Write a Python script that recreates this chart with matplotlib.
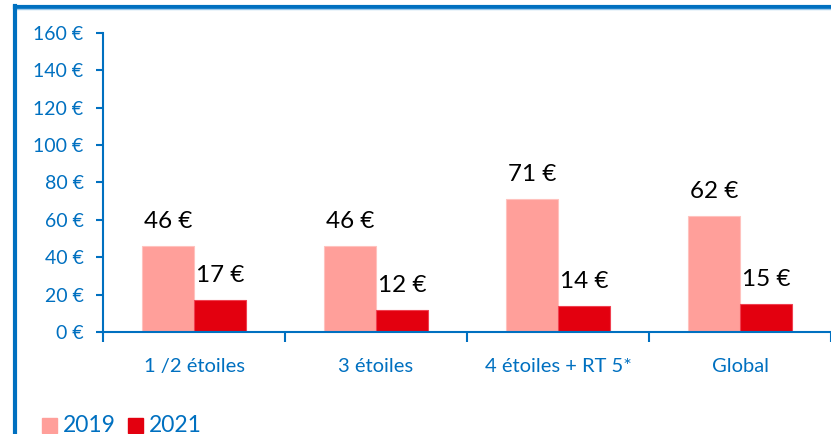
import matplotlib.pyplot as plt
import numpy as np
from matplotlib.lines import Line2D
from matplotlib.patches import Rectangle

plt.rcParams['font.family'] = ['Lato', 'DejaVu Sans']

categories = ['1 /2 étoiles', '3 étoiles', '4 étoiles + RT 5*', 'Global']
vals_2019 = [46, 46, 71, 62]
vals_2021 = [17, 12, 14, 15]
series = ['2019', '2021']
yticks = [0, 20, 40, 60, 80, 100, 120, 140, 160]

blue = '#0070C0'
pink = '#FF9F9A'
red = '#E3000F'

fig = plt.figure(figsize=(8.31, 4.34), dpi=100)
ax = fig.add_axes([0.124, 0.235, 0.876, 0.689])

x = np.arange(len(categories))
w = 0.285
b1 = ax.bar(x - w / 2, vals_2019, w, color=pink, edgecolor='#FFC2BE', linewidth=0.8)
b2 = ax.bar(x + w / 2, vals_2021, w, color=red, edgecolor='#F04050', linewidth=0.8)

for bars in (b1, b2):
    for r in bars:
        ax.annotate('{:d} €'.format(int(r.get_height())),
                    (r.get_x() + r.get_width() / 2, r.get_height()),
                    xytext=(0, 10), textcoords='offset points',
                    ha='center', va='bottom', fontsize=17.5, color='black')

ax.set_xlim(-0.5, 3.463)
ax.set_ylim(0, 160)
ax.set_yticks(yticks)
ax.set_yticklabels(['{} €'.format(v) for v in yticks])
ax.set_xticks(x)
ax.set_xticklabels(categories)
ax.set_xticks(np.arange(-0.5, 4, 1), minor=True)

ax.tick_params(axis='y', colors=blue, labelsize=14, length=5, width=1.5, pad=9)
ax.tick_params(axis='x', which='major', colors=blue, labelsize=14.5, length=0, pad=19)
ax.tick_params(axis='x', which='minor', colors=blue, length=7, width=1.5, direction='out')

for s in ['top', 'right']:
    ax.spines[s].set_visible(False)
for s in ['left', 'bottom']:
    ax.spines[s].set_color(blue)
    ax.spines[s].set_linewidth(1.5)

# legend at bottom left
legend_y = 425
for i, (lab, col) in enumerate(zip(series, [pink, red])):
    x0 = [42, 128][i]
    fig.add_artist(Rectangle((x0 / 831, (434 - 433) / 434), 15 / 831, 15 / 434,
                             transform=fig.transFigure, color=col))
    fig.text((x0 + 21) / 831, (434 - legend_y) / 434, lab, color=blue,
             fontsize=16.5, va='center', ha='left')

# frame lines
fig.add_artist(Line2D([15 / 831, 1], [(434 - 7) / 434] * 2, transform=fig.transFigure,
                      color=blue, linewidth=3))
fig.add_artist(Line2D([15 / 831, 1], [(434 - 9) / 434] * 2, transform=fig.transFigure,
                      color='#9CC8EA', linewidth=1))
fig.add_artist(Line2D([15 / 831] * 2, [0, (434 - 6) / 434], transform=fig.transFigure,
                      color=blue, linewidth=3))

fig.savefig('out.png', dpi=100)
